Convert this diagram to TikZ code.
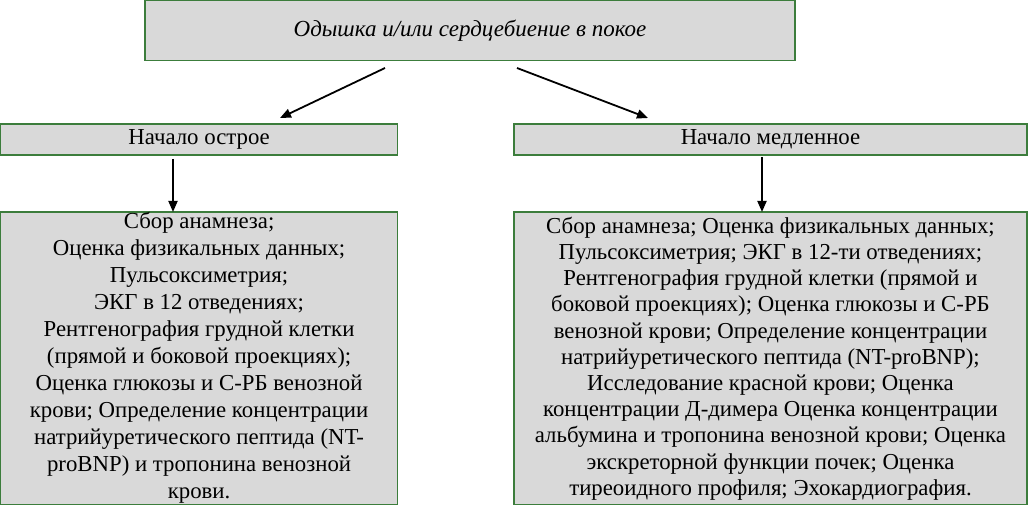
\documentclass[tikz,border=0pt]{standalone}
\usepackage{fontspec}
\setmainfont{Liberation Serif}
\usetikzlibrary{arrows.meta,calc}
\definecolor{boxfill}{RGB}{217,217,217}
\definecolor{boxline}{RGB}{60,125,60}
\begin{document}
\begin{tikzpicture}[x=1pt,y=-1pt,
  box/.style={draw=boxline,fill=boxfill,line width=1.2pt,inner sep=0pt,outer sep=0pt,anchor=north west},
  arr/.style={line width=1.8pt,-{Triangle[length=11pt,width=9pt]}},
  txt/.style={align=center,inner sep=0pt}]
\useasboundingbox (0,0) rectangle (1029,505);
\node[box,minimum width=650,minimum height=60] (top) at (145,0.6) {};
\node[txt,font=\fontsize{23}{27}\selectfont\itshape] at (top.center) {Одышка и/или сердцебиение в покое};
\node[box,minimum width=397,minimum height=31] (acute) at (0.6,124) {};
\node[txt,font=\fontsize{22.8}{27}\selectfont] at (acute.center) {Начало острое};
\node[box,minimum width=513,minimum height=31] (slow) at (514,124) {};
\node[txt,font=\fontsize{22.8}{27}\selectfont] at (slow.center) {Начало медленное};
\node[box,minimum width=397,minimum height=293] (acuteL) at (0.6,212) {};
\node[txt,font=\fontsize{22.8}{27}\selectfont] at ($(acuteL.center)+(0,-1)$) {Сбор анамнеза;\\
Оценка физикальных данных;\\
Пульсоксиметрия;\\
ЭКГ в 12 отведениях;\\
Рентгенография грудной клетки\\
(прямой и боковой проекциях);\\
Оценка глюкозы и С-РБ венозной\\
крови; Определение концентрации\\
натрийуретического пептида (NT-\\
proBNP) и тропонина венозной\\
крови.};
\node[box,minimum width=513,minimum height=293] (slowL) at (514,212) {};
\node[txt,font=\fontsize{22.8}{26.2}\selectfont] at ($(slowL.center)+(0,0)$) {Сбор анамнеза; Оценка физикальных данных;\\
Пульсоксиметрия; ЭКГ в 12-ти отведениях;\\
Рентгенография грудной клетки (прямой и\\
боковой проекциях); Оценка глюкозы и С-РБ\\
венозной крови; Определение концентрации\\
натрийуретического пептида (NT-proBNP);\\
Исследование красной крови; Оценка\\
концентрации Д-димера Оценка концентрации\\
альбумина и тропонина венозной крови; Оценка\\
экскреторной функции почек; Оценка\\
тиреоидного профиля; Эхокардиография.};
\coordinate (s1) at (385,68);
\coordinate (e1) at (280,118);
\coordinate (s2) at (517,68);
\coordinate (e2) at (648,118);
\draw[arr] (s1) -- (e1);
\draw[arr] (s2) -- (e2);
\draw[arr] (acute.south -| 173,0) ++(0,4) -- (173,212);
\draw[arr] (762,157) -- (762,212);
\end{tikzpicture}
\end{document}
